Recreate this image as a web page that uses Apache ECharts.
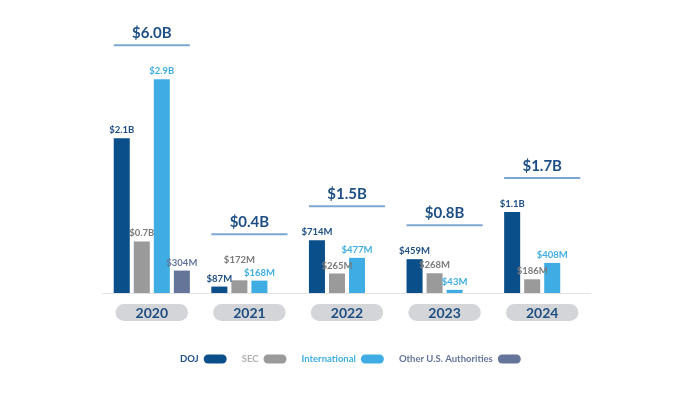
<!DOCTYPE html>
<html>
<head>
<meta charset="utf-8">
<script src="https://cdn.jsdelivr.net/npm/echarts@6/dist/echarts.min.js"></script>
<style>html,body{margin:0;padding:0;background:#fff;}#c{width:685px;height:407px;}</style>
</head>
<body>
<div id="c"></div>
<script>
// ---- data (values in $M) ----
const years = ['2020', '2021', '2022', '2023', '2024'];
const seriesNames = ['DOJ', 'SEC', 'International', 'Other U.S. Authorities'];
const doj = [2100, 87, 714, 459, 1100];
const sec = [700, 172, 265, 268, 186];
const intl = [2900, 168, 477, 43, 408];
const other = [304, null, null, null, null];
const dojLabels = ['$2.1B', '$87M', '$714M', '$459M', '$1.1B'];
const secLabels = ['$0.7B', '$172M', '$265M', '$268M', '$186M'];
const intlLabels = ['$2.9B', '$168M', '$477M', '$43M', '$408M'];
const otherLabels = ['$304M', '', '', '', ''];

const colors = ['#0b4f8a', '#9a9a9a', '#3fade3', '#647599'];
const labelColors = ['#1d4f85', '#7a7a7a', '#3fade3', '#647599'];
const legendColors = ['#1d4f85', '#b0b0b0', '#3fade3', '#647599'];
const font = 'Lato';

const values = [doj, sec, intl, other];
const labels = [dojLabels, secLabels, intlLabels, otherLabels];

// lift for a label that would otherwise collide with its neighbour
function lift(si, ci) { return (si === 1 && years[ci] === '2021') ? 12 : 0; }

const barSeries = seriesNames.map((name, si) => ({
  name: name,
  type: 'bar',
  barGap: '25%',
  barCategoryGap: '22%',
  itemStyle: { color: colors[si] },
  data: values[si].map((v, ci) => ({
    value: v,
    label: {
      show: v != null,
      position: 'top',
      distance: 3,
      offset: [0, -lift(si, ci)],
      formatter: labels[si][ci],
      color: labelColors[si],
      fontFamily: font,
      fontSize: 9.5,
      fontWeight: 'bold'
    }
  }))
}));

const totals = years.map((y, ci) => values.reduce((s, arr) => s + (arr[ci] || 0), 0));
const totalData = years.map((y, ci) => {
  let best = 0;
  values.forEach((arr) => { if (arr[ci] != null && arr[ci] >= best) best = arr[ci]; });
  return [ci, best, totals[ci]];
});

const pill = 'path://M4.5,0 H18.5 A4.5,4.5 0 0 1 18.5,9 H4.5 A4.5,4.5 0 0 1 4.5,0 Z';

const chart = echarts.init(document.getElementById('c'));
chart.setOption({
  animation: false,
  grid: { left: 103, right: 94, top: 35, bottom: 114 },
  legend: {
    left: 175,
    top: 349,
    align: 'right',
    icon: pill,
    itemWidth: 23,
    itemHeight: 9,
    itemGap: 15,
    textStyle: { fontFamily: font, fontSize: 9.5, fontWeight: 'bold' },
    data: seriesNames.map((n, i) => ({ name: n, textStyle: { color: legendColors[i] } }))
  },
  xAxis: {
    type: 'category',
    data: years,
    axisLine: { lineStyle: { color: '#e2e2e2', width: 1 } },
    axisTick: { show: false },
    axisLabel: {
      margin: 11,
      fontFamily: font,
      fontSize: 14,
      fontWeight: 'bold',
      color: '#1f4e80',
      backgroundColor: '#d4d5d8',
      borderRadius: 9,
      padding: [2, 20, 1, 20],
      lineHeight: 14
    }
  },
  yAxis: { type: 'value', min: 0, max: 3500, show: false, splitLine: { show: false } },
  series: barSeries.concat([{
    type: 'custom',
    name: 'totals',
    clip: false,
    silent: true,
    data: totalData,
    encode: { x: 0, y: 1 },
    renderItem: function (params, api) {
      const ci = api.value(0);
      const top = api.coord([ci, api.value(1)]);
      let minY = Infinity;
      values.forEach((arr, si) => {
        if (arr[ci] != null) {
          const p = api.coord([ci, arr[ci]]);
          minY = Math.min(minY, p[1] - lift(si, ci));
        }
      });
      const band = api.size([1, 0])[0];
      const half = band * 0.39;
      const cx = top[0];
      const lineY = minY - 34;
      const t = totals[ci] / 1000;
      return {
        type: 'group',
        children: [
          { type: 'line', shape: { x1: cx - half, y1: lineY, x2: cx + half, y2: lineY },
            style: { stroke: '#7ba6cf', lineWidth: 2 } },
          { type: 'text', x: cx, y: lineY - 12,
            style: { text: '$' + t.toFixed(1) + 'B', fill: '#1d4f85', font: 'bold 15px ' + font,
                     align: 'center', verticalAlign: 'middle' } }
        ]
      };
    }
  }])
});
</script>
</body>
</html>
